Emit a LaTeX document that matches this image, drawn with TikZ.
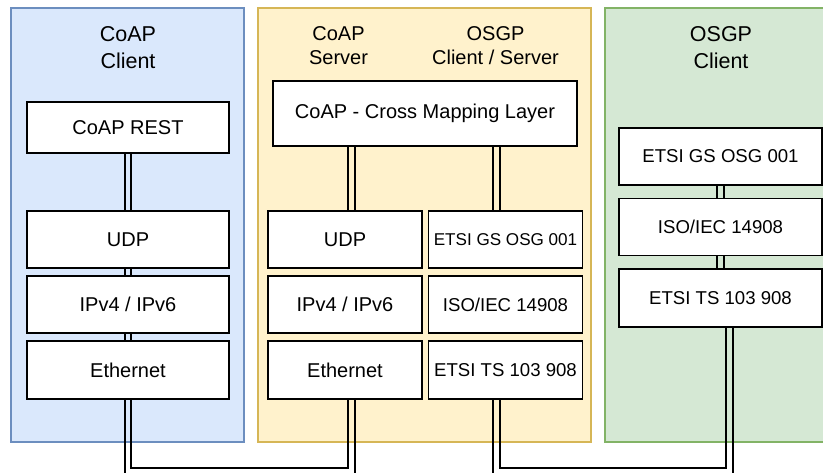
\documentclass[tikz,border=0pt]{standalone}
\usepackage{fontspec}
\setmainfont{Liberation Sans}
\usetikzlibrary{calc}

\definecolor{clientfill}{HTML}{DAE8FC}
\definecolor{clientdraw}{HTML}{6C8EBF}
\definecolor{serverfill}{HTML}{FFF2CC}
\definecolor{serverdraw}{HTML}{D6B656}
\definecolor{osgpfill}{HTML}{D5E8D4}
\definecolor{osgpdraw}{HTML}{82B366}

% two parallel vertical strokes from the bottom of one layer to the top of the next
\newcommand\vlink[3]{%
  \foreach \s in {-3.3,3.3}{%
    \draw[linkline] ($(#1.south -| #3)+(\s,0)$) -- ($(#2.north -| #3)+(\s,0)$);}}

\begin{document}
\begin{tikzpicture}[x=1pt,y=-1pt,
  panel/.style={line width=2pt},
  layer/.style={draw=black, fill=white, line width=1.2pt, inner sep=0pt,
    align=center, minimum height=57pt, font=\fontsize{20}{24}\selectfont},
  small/.style={font=\fontsize{18.6}{22}\selectfont},
  tiny/.style={font=\fontsize{17.1}{20}\selectfont},
  head/.style={align=center, inner sep=0pt, font=\fontsize{21.5}{27}\selectfont},
  headsm/.style={align=center, inner sep=0pt, font=\fontsize{20}{23.5}\selectfont},
  linkline/.style={draw=black, line width=2pt, line join=miter}]

\useasboundingbox (0,0) rectangle (823,472);

% protocol stacks
\draw[panel, draw=clientdraw, fill=clientfill] (11,8) rectangle (244,442);
\draw[panel, draw=serverdraw, fill=serverfill] (258,8) rectangle (591,442);
\draw[panel, draw=osgpdraw, fill=osgpfill] (605,8) rectangle (840,442);

% headings
\node[head] (hcc) at (128,47.5) {CoAP\\Client};
\node[headsm] (hcs) at (338.5,45.75) {CoAP\\Server};
\node[headsm] (hos) at (495.5,45.75) {OSGP\\Client / Server};
\node[head] (hoc) at (721,47.5) {OSGP\\Client};

% CoAP client stack
\node[layer, minimum width=202pt, minimum height=51pt] (rest) at (128,127.5) {CoAP REST};
\node[layer, minimum width=202pt] (budp) at (128,239.5) {UDP};
\node[layer, minimum width=202pt] (bip) at (128,304.5) {IPv4 / IPv6};
\node[layer, minimum width=202pt, minimum height=58pt] (beth) at (128,370) {Ethernet};

% gateway stack
\node[layer, minimum width=304pt, minimum height=65pt] (cm) at (425,113.5) {CoAP - Cross Mapping Layer};
\node[layer, minimum width=154pt] (yudp) at (345,239.5) {UDP};
\node[layer, minimum width=154pt] (yip) at (345,304.5) {IPv4 / IPv6};
\node[layer, minimum width=154pt, minimum height=58pt] (yeth) at (345,370) {Ethernet};
\node[layer, tiny, minimum width=154pt] (ygs) at (505.5,239.5) {ETSI GS OSG 001};
\node[layer, small, minimum width=154pt] (yiso) at (505.5,304.5) {ISO/IEC 14908};
\node[layer, small, minimum width=154pt, minimum height=58pt] (yts) at (505.5,370) {ETSI TS 103 908};

% OSGP client stack
\node[layer, small, minimum width=203pt] (ggs) at (720.5,156.5) {ETSI GS OSG 001};
\node[layer, small, minimum width=203pt] (giso) at (720.5,227.3) {ISO/IEC 14908};
\node[layer, small, minimum width=203pt, minimum height=58pt] (gts) at (720.5,298) {ETSI TS 103 908};

% link columns and the shared bottom trunk
\coordinate (linkA) at (351.5,0);
\coordinate (linkB) at (496.5,0);
\coordinate (linkC) at (729.5,0);
\coordinate (trunk) at (0,471.3);

% links inside the stacks
\vlink{rest}{budp}{rest}
\vlink{budp}{bip}{budp}
\vlink{bip}{beth}{bip}
\vlink{cm}{yudp}{linkA}
\vlink{cm}{ygs}{linkB}
\vlink{ggs}{giso}{ggs}
\vlink{giso}{gts}{giso}

% Ethernet link between client and gateway
\draw[linkline] ($(beth.south)+(-3.3,0)$) |- ($(trunk -| linkA)+(3.3,3.3)$)
  -- ($(yeth.south -| linkA)+(3.3,0)$);
\draw[linkline] ($(beth.south)+(3.3,0)$) |- ($(trunk -| linkA)+(-3.3,-3.3)$)
  -- ($(yeth.south -| linkA)+(-3.3,0)$);

% OSGP link between gateway and OSGP client
\draw[linkline] ($(yts.south -| linkB)+(-3.3,0)$) |- ($(trunk -| linkC)+(3.3,3.3)$)
  -- ($(gts.south -| linkC)+(3.3,0)$);
\draw[linkline] ($(yts.south -| linkB)+(3.3,0)$) |- ($(trunk -| linkC)+(-3.3,-3.3)$)
  -- ($(gts.south -| linkC)+(-3.3,0)$);
\end{tikzpicture}
\end{document}
